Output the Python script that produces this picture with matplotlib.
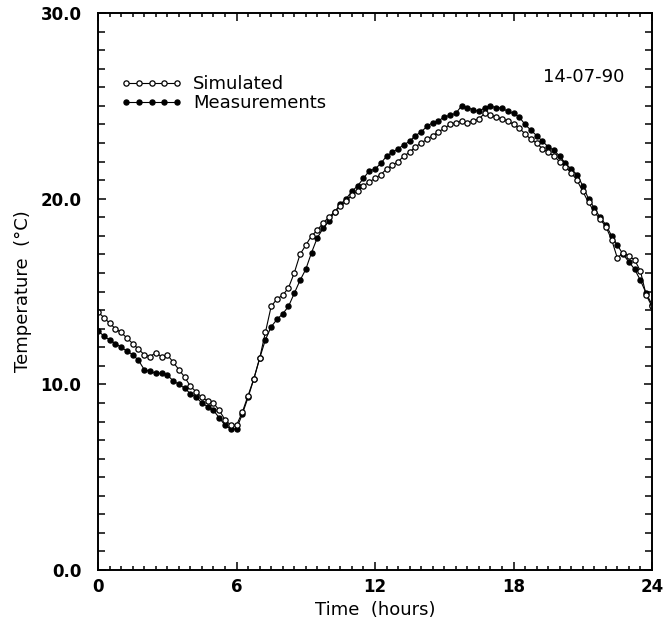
import numpy as np
import matplotlib
matplotlib.use("Agg")
import matplotlib.pyplot as plt
from matplotlib.ticker import MultipleLocator, FormatStrFormatter

# quarter-hourly readings, 14 July 1990
hours = np.arange(0, 24.01, 0.25)

simulated = [
    13.9, 13.6, 13.3, 13.0, 12.8, 12.5, 12.2, 11.9,
    11.6, 11.5, 11.7, 11.5, 11.6, 11.2, 10.8, 10.4,
    9.9, 9.6, 9.3, 9.1, 9.0, 8.6, 8.1, 7.8,
    7.8, 8.5, 9.4, 10.3, 11.4, 12.8, 14.2, 14.6,
    14.8, 15.2, 16.0, 17.0, 17.5, 18.0, 18.3, 18.7,
    19.0, 19.3, 19.6, 19.9, 20.2, 20.4, 20.7, 20.9,
    21.1, 21.3, 21.6, 21.8, 22.0, 22.3, 22.5, 22.8,
    23.0, 23.2, 23.4, 23.6, 23.8, 24.0, 24.1, 24.2,
    24.1, 24.2, 24.3, 24.6, 24.5, 24.4, 24.3, 24.2,
    24.0, 23.8, 23.5, 23.2, 23.0, 22.7, 22.5, 22.3,
    22.0, 21.7, 21.4, 21.0, 20.4, 19.8, 19.3, 18.9,
    18.5, 17.8, 16.8, 17.1, 16.9, 16.7, 16.1, 14.8,
    14.2,
]

measured = [
    12.9, 12.6, 12.4, 12.2, 12.0, 11.8, 11.6, 11.3,
    10.8, 10.7, 10.6, 10.6, 10.5, 10.2, 10.0, 9.8,
    9.5, 9.3, 9.0, 8.8, 8.6, 8.2, 7.8, 7.6,
    7.6, 8.4, 9.3, 10.3, 11.4, 12.4, 13.1, 13.5,
    13.8, 14.2, 14.9, 15.6, 16.2, 17.1, 17.9, 18.4,
    18.8, 19.3, 19.7, 20.0, 20.4, 20.7, 21.1, 21.5,
    21.6, 21.9, 22.3, 22.5, 22.7, 22.9, 23.1, 23.4,
    23.6, 23.9, 24.1, 24.2, 24.4, 24.5, 24.6, 25.0,
    24.9, 24.8, 24.7, 24.9, 25.0, 24.9, 24.9, 24.7,
    24.6, 24.4, 24.0, 23.7, 23.4, 23.1, 22.8, 22.6,
    22.3, 21.9, 21.6, 21.3, 20.7, 20.0, 19.5, 19.0,
    18.6, 18.0, 17.5, 17.0, 16.6, 16.2, 15.6, 14.9,
    14.3,
]

fig = plt.figure(figsize=(6.67, 6.24), dpi=100)
ax = fig.add_axes([0.147, 0.0865, 0.8305, 0.8925])

ax.plot(hours, measured, color="black", lw=0.8, marker="o", ms=3.6,
        mfc="black", mec="black", label="Measurements")
ax.plot(hours, simulated, color="black", lw=0.8, marker="o", ms=3.8,
        mfc="white", mec="black", mew=0.9, label="Simulated")

ax.set_xlim(0, 24)
ax.set_ylim(0, 30)
ax.xaxis.set_major_locator(MultipleLocator(6))
ax.xaxis.set_minor_locator(MultipleLocator(0.5))
ax.yaxis.set_major_locator(MultipleLocator(10))
ax.yaxis.set_minor_locator(MultipleLocator(1))
ax.yaxis.set_major_formatter(FormatStrFormatter("%.1f"))

ax.tick_params(which="both", direction="in", top=True, right=True, width=1.1)
ax.tick_params(axis="x", which="major", length=6, pad=6)
ax.tick_params(axis="x", which="minor", length=3)
ax.tick_params(axis="y", which="major", length=6, pad=12)
ax.tick_params(axis="y", which="minor", length=5)
for lbl in ax.get_xticklabels() + ax.get_yticklabels():
    lbl.set_fontsize(12)
    lbl.set_fontweight("bold")
for sp in ax.spines.values():
    sp.set_linewidth(1.4)

ax.set_xlabel("Time  (hours)", fontsize=13, labelpad=3)
ax.set_ylabel("Temperature  (\u00b0C)", fontsize=13, labelpad=6)

handles, labels = ax.get_legend_handles_labels()
ax.legend(handles[::-1], labels[::-1], loc="upper left",
          bbox_to_anchor=(0.025, 0.905), frameon=False, numpoints=5,
          handlelength=3.4, handletextpad=0.6, labelspacing=0.05,
          borderpad=0, fontsize=13)

ax.text(0.95, 0.885, "14-07-90", transform=ax.transAxes, ha="right",
        va="center", fontsize=13)

fig.savefig("out.png", dpi=100)
